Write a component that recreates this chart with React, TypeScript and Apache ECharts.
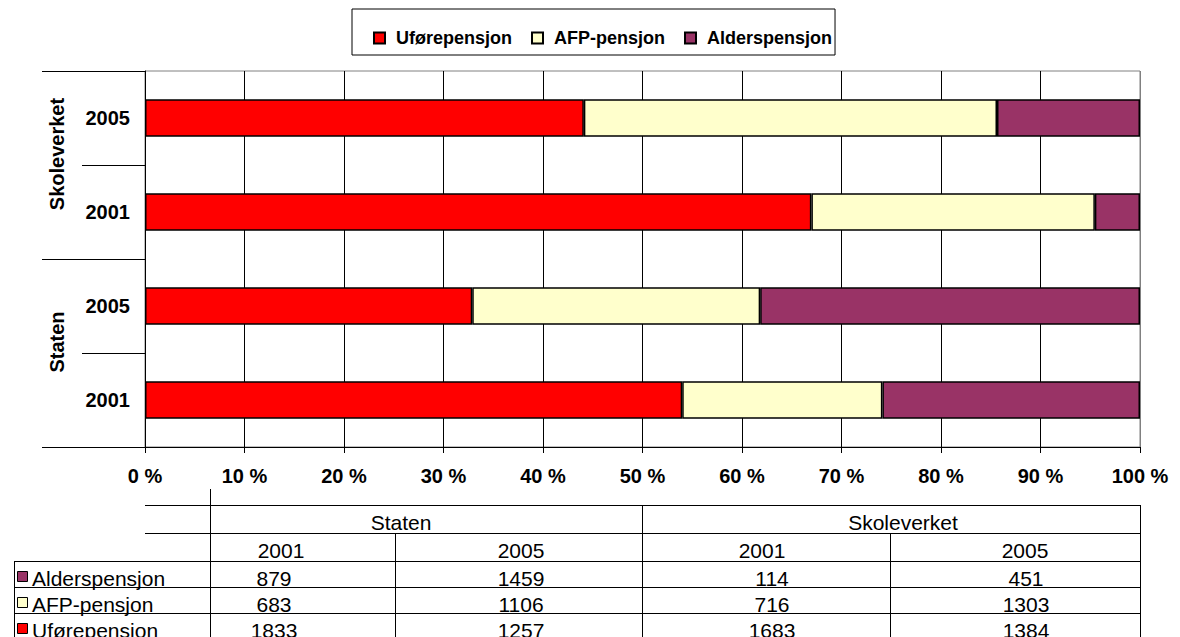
import React, { useEffect, useRef } from "react";
import * as echarts from "echarts";

const categories = ["Staten 2001", "Staten 2005", "Skoleverket 2001", "Skoleverket 2005"];
const yearLabels = ["2001", "2005", "2001", "2005"];
const groups = ["Staten", "Skoleverket"];
const seriesNames = ["Uførepensjon", "AFP-pensjon", "Alderspensjon"];
const uforepensjon = [1833, 1257, 1683, 1384];
const afpPensjon = [683, 1106, 716, 1303];
const alderspensjon = [879, 1459, 114, 451];
const colors = ["#FF0000", "#FFFFCC", "#993366"];

// table layout
const tableRowNames = ["Alderspensjon", "AFP-pensjon", "Uførepensjon"];
const tableRowValues = [alderspensjon, afpPensjon, uforepensjon];
const tableRowColors = ["#993366", "#FFFFCC", "#FF0000"];

const FONT = '"Liberation Sans", Arial, Helvetica, sans-serif';

function pct(arr: number[]) {
  return arr.map((v, i) => (v / (uforepensjon[i] + afpPensjon[i] + alderspensjon[i])) * 100);
}

function buildTable() {
  const els: any[] = [];
  const line = (x1: number, y1: number, x2: number, y2: number) =>
    els.push({ type: "line", silent: true, shape: { x1, y1, x2, y2 }, style: { stroke: "#000", lineWidth: 1 } });
  const text = (t: string, x: number, y: number, align: string) =>
    els.push({
      type: "text",
      silent: true,
      x,
      y,
      style: {
        text: t,
        fontSize: 21,
        fontFamily: FONT,
        fill: "#000",
        align,
        verticalAlign: "middle",
        textAlign: align,
        textVerticalAlign: "middle",
      },
    });
  // horizontal lines
  line(145, 505.5, 1140, 505.5);
  line(145, 533.5, 1140, 533.5);
  line(14, 561.5, 1140, 561.5);
  line(14, 587.5, 1140, 587.5);
  line(14, 613.5, 1140, 613.5);
  // vertical lines
  line(14.5, 561, 14.5, 640);
  line(210.5, 489, 210.5, 640);
  line(395.5, 533, 395.5, 640);
  line(642.5, 505, 642.5, 640);
  line(890.5, 533, 890.5, 640);
  line(1140.5, 505, 1140.5, 640);
  // group header
  text(groups[0], 401, 522, "center");
  text(groups[1], 903, 522, "center");
  const yearX = [281, 521, 762, 1025];
  const valX = [274, 521, 772, 1026];
  yearLabels.forEach((y, i) => text(y, yearX[i], 550, "center"));
  const rowY = [578, 604, 630];
  tableRowNames.forEach((name, r) => {
    els.push({
      type: "rect",
      silent: true,
      shape: { x: 17.5, y: rowY[r] - 6.5, width: 10, height: 10 },
      style: { fill: tableRowColors[r], stroke: "#000", lineWidth: 1 },
    });
    text(name, 32, rowY[r], "left");
    tableRowValues[r].forEach((v, i) => text(String(v), valX[i], rowY[r], "center"));
  });
  return els;
}

export default function App() {
  const ref = useRef<HTMLDivElement>(null);
  useEffect(() => {
    if (!ref.current) return;
    const chart = echarts.init(ref.current, null, { renderer: "svg" });
    const splitColors = Array(10).fill("#000").concat(["#808080"]);
    const seriesData = [pct(uforepensjon), pct(afpPensjon), pct(alderspensjon)];
    chart.setOption({
      animation: false,
      backgroundColor: "#fff",
      textStyle: { fontFamily: FONT },
      legend: {
        left: 352,
        top: 9,
        icon: "rect",
        itemWidth: 11,
        itemHeight: 11,
        itemGap: 19,
        padding: [20, 3, 8, 21],
        borderColor: "#000",
        borderWidth: 1,
        textStyle: { fontSize: 18, fontWeight: "bold", color: "#000", fontFamily: FONT, padding: [0, 0, 0, 6] },
        data: seriesNames,
      },
      grid: {
        left: 145,
        right: 40,
        top: 71,
        bottom: 190,
        show: true,
        borderColor: "#808080",
        borderWidth: 1,
        containLabel: false,
      },
      xAxis: {
        type: "value",
        min: 0,
        max: 100,
        interval: 10,
        axisLine: { show: true, lineStyle: { color: "#000", width: 1 } },
        axisTick: { show: true, length: 6, lineStyle: { color: "#000" } },
        axisLabel: {
          formatter: (v: number) => `${v} %`,
          fontSize: 20,
          fontWeight: "bold",
          color: "#000",
          margin: 19,
          fontFamily: FONT,
        },
        splitLine: { show: true, lineStyle: { color: splitColors, width: 1 } },
      },
      yAxis: [
        {
          type: "category",
          data: categories,
          position: "left",
          axisLine: { show: true, lineStyle: { color: "#000", width: 1 } },
          axisTick: { show: true, length: 63, lineStyle: { color: "#000" } },
          axisLabel: {
            formatter: (_v: string, i: number) => yearLabels[i],
            fontSize: 20,
            fontWeight: "bold",
            color: "#000",
            margin: 15,
            interval: 0,
            fontFamily: FONT,
          },
          splitLine: { show: false },
        },
        {
          type: "category",
          data: groups,
          position: "left",
          offset: 0,
          axisLine: { show: false },
          axisTick: { show: true, length: 103, lineStyle: { color: "#000" } },
          axisLabel: {
            rotate: 90,
            fontSize: 20,
            fontWeight: "bold",
            color: "#000",
            margin: 78,
            interval: 0,
            padding: [0, 0, 0, 22],
            fontFamily: FONT,
          },
          splitLine: { show: false },
        },
      ],
      series: seriesNames.map((name, k) => ({
        name,
        type: "bar",
        stack: "total",
        yAxisIndex: 0,
        barWidth: "40%",
        data: seriesData[k],
        itemStyle: { color: colors[k], borderColor: "#000", borderWidth: 1.5 },
        emphasis: { disabled: true },
      })),
      graphic: buildTable(),
    });
    return () => chart.dispose();
  }, []);
  return <div ref={ref} style={{ width: 1180, height: 637, position: "absolute", left: 0, top: 0 }} />;
}
